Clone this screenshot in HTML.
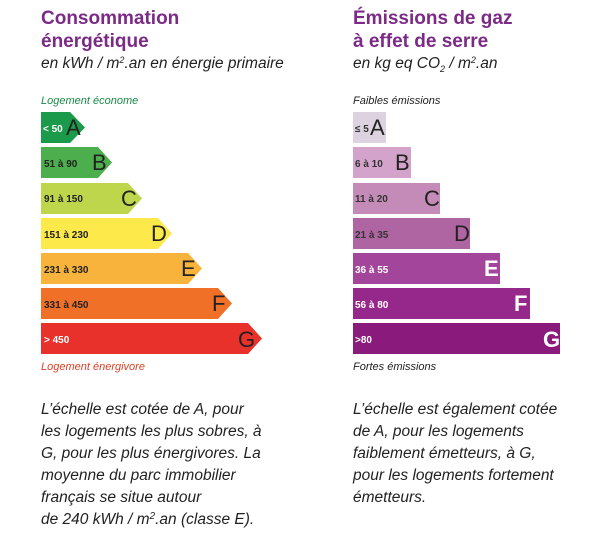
<!DOCTYPE html>
<html><head><meta charset="utf-8"><style>
body{margin:0;background:#fff;width:608px;height:540px;overflow:hidden}
svg{display:block}
.t{font-family:"Liberation Sans",sans-serif;font-weight:bold;fill:#7b2a85;font-size:19px}
.s{font-family:"Liberation Sans",sans-serif;font-style:italic;fill:#222;font-size:15.5px}
.p{font-family:"Liberation Sans",sans-serif;font-style:italic;fill:#222;font-size:15.5px}
.r{font-family:"Liberation Sans",sans-serif;font-weight:bold;font-size:10px}
.L{font-family:"Liberation Sans",sans-serif;font-size:22px;fill:#222}
.W{font-family:"Liberation Sans",sans-serif;font-size:22px;fill:#fff;font-weight:bold}
</style></head><body>
<svg width="608" height="540" xmlns="http://www.w3.org/2000/svg">
<text class="t" x="41" y="24">Consommation</text>
<text class="t" x="41" y="47">énergétique</text>
<text class="s" x="41" y="68">en kWh / m<tspan font-size="9" dy="-5">2</tspan><tspan dy="5">.an en énergie primaire</tspan></text>
<text class="t" x="353" y="24">Émissions de gaz</text>
<text class="t" x="353" y="47">à effet de serre</text>
<text class="s" x="353" y="68">en kg eq CO<tspan font-size="9" dy="4">2</tspan><tspan dy="-4"> / m</tspan><tspan font-size="9" dy="-5">2</tspan><tspan dy="5">.an</tspan></text>

<text x="41" y="104" font-family="Liberation Sans" font-style="italic" font-size="11" fill="#1a8a4a">Logement économe</text>
<g>
<polygon points="41,112 70,112 85,127.5 70,143 41,143" fill="#1a9a4a"/>
<polygon points="41,147 98,147 112,162.5 98,178 41,178" fill="#4cae4c"/>
<polygon points="41,183 128,183 142,198.5 128,214 41,214" fill="#bdd64b"/>
<polygon points="41,218 158,218 172,233.5 158,249 41,249" fill="#fde94a"/>
<polygon points="41,253 188,253 202,268.5 188,284 41,284" fill="#f7b33b"/>
<polygon points="41,288 218,288 232,303.5 218,319 41,319" fill="#f07028"/>
<polygon points="41,323 248,323 262,338.5 248,354 41,354" fill="#e8312a"/>
</g>
<text class="r" x="43" y="132" fill="#fff">&lt; 50</text><text class="L" x="66" y="135">A</text>
<text class="r" x="44" y="167" fill="#222">51 à 90</text><text class="L" x="92" y="170">B</text>
<text class="r" x="44" y="202" fill="#222">91 à 150</text><text class="L" x="121" y="206">C</text>
<text class="r" x="44" y="238" fill="#222">151 à 230</text><text class="L" x="151" y="241">D</text>
<text class="r" x="44" y="273" fill="#222">231 à 330</text><text class="L" x="181" y="276">E</text>
<text class="r" x="44" y="308" fill="#222">331 à 450</text><text class="L" x="212" y="311">F</text>
<text class="r" x="44" y="343" fill="#fff">&gt; 450</text><text class="L" x="238" y="347">G</text>
<text x="41" y="370" font-family="Liberation Sans" font-style="italic" font-size="11" fill="#d8402a">Logement énergivore</text>

<text x="353" y="104" font-family="Liberation Sans" font-style="italic" font-size="11" fill="#222">Faibles émissions</text>
<rect x="353" y="112" width="33" height="31" fill="#ddd3e0"/>
<rect x="353" y="147" width="58" height="31" fill="#d3a3cb"/>
<rect x="353" y="183" width="87" height="31" fill="#c48ab8"/>
<rect x="353" y="218" width="117" height="31" fill="#b065a3"/>
<rect x="353" y="253" width="147" height="31" fill="#a3459a"/>
<rect x="353" y="288" width="177" height="31" fill="#97288b"/>
<rect x="353" y="323" width="207" height="31" fill="#8a1a7b"/>
<text class="r" x="355" y="132" fill="#333">≤ 5</text><text class="L" x="370" y="135" fill="#333">A</text>
<text class="r" x="355" y="167" fill="#333">6 à 10</text><text class="L" x="395" y="170" fill="#333">B</text>
<text class="r" x="355" y="202" fill="#333">11 à 20</text><text class="L" x="424" y="206" fill="#333">C</text>
<text class="r" x="355" y="238" fill="#333">21 à 35</text><text class="L" x="454" y="241" fill="#333">D</text>
<text class="r" x="355" y="273" fill="#fff">36 à 55</text><text class="W" x="484" y="276">E</text>
<text class="r" x="355" y="308" fill="#fff">56 à 80</text><text class="W" x="514" y="311">F</text>
<text class="r" x="355" y="343" fill="#fff">&gt;80</text><text class="W" x="543" y="347">G</text>
<text x="353" y="370" font-family="Liberation Sans" font-style="italic" font-size="11" fill="#222">Fortes émissions</text>

<text class="p" x="41" y="414">L’échelle est cotée de A, pour</text>
<text class="p" x="41" y="436">les logements les plus sobres, à</text>
<text class="p" x="41" y="458">G, pour les plus énergivores. La</text>
<text class="p" x="41" y="480">moyenne du parc immobilier</text>
<text class="p" x="41" y="502">français se situe autour</text>
<text class="p" x="41" y="524">de 240 kWh / m<tspan font-size="10" dy="-5">2</tspan><tspan dy="5">.an (classe E).</tspan></text>

<text class="p" x="353" y="414">L’échelle est également cotée</text>
<text class="p" x="353" y="436">de A, pour les logements</text>
<text class="p" x="353" y="458">faiblement émetteurs, à G,</text>
<text class="p" x="353" y="480">pour les logements fortement</text>
<text class="p" x="353" y="502">émetteurs.</text>
</svg>
</body></html>
